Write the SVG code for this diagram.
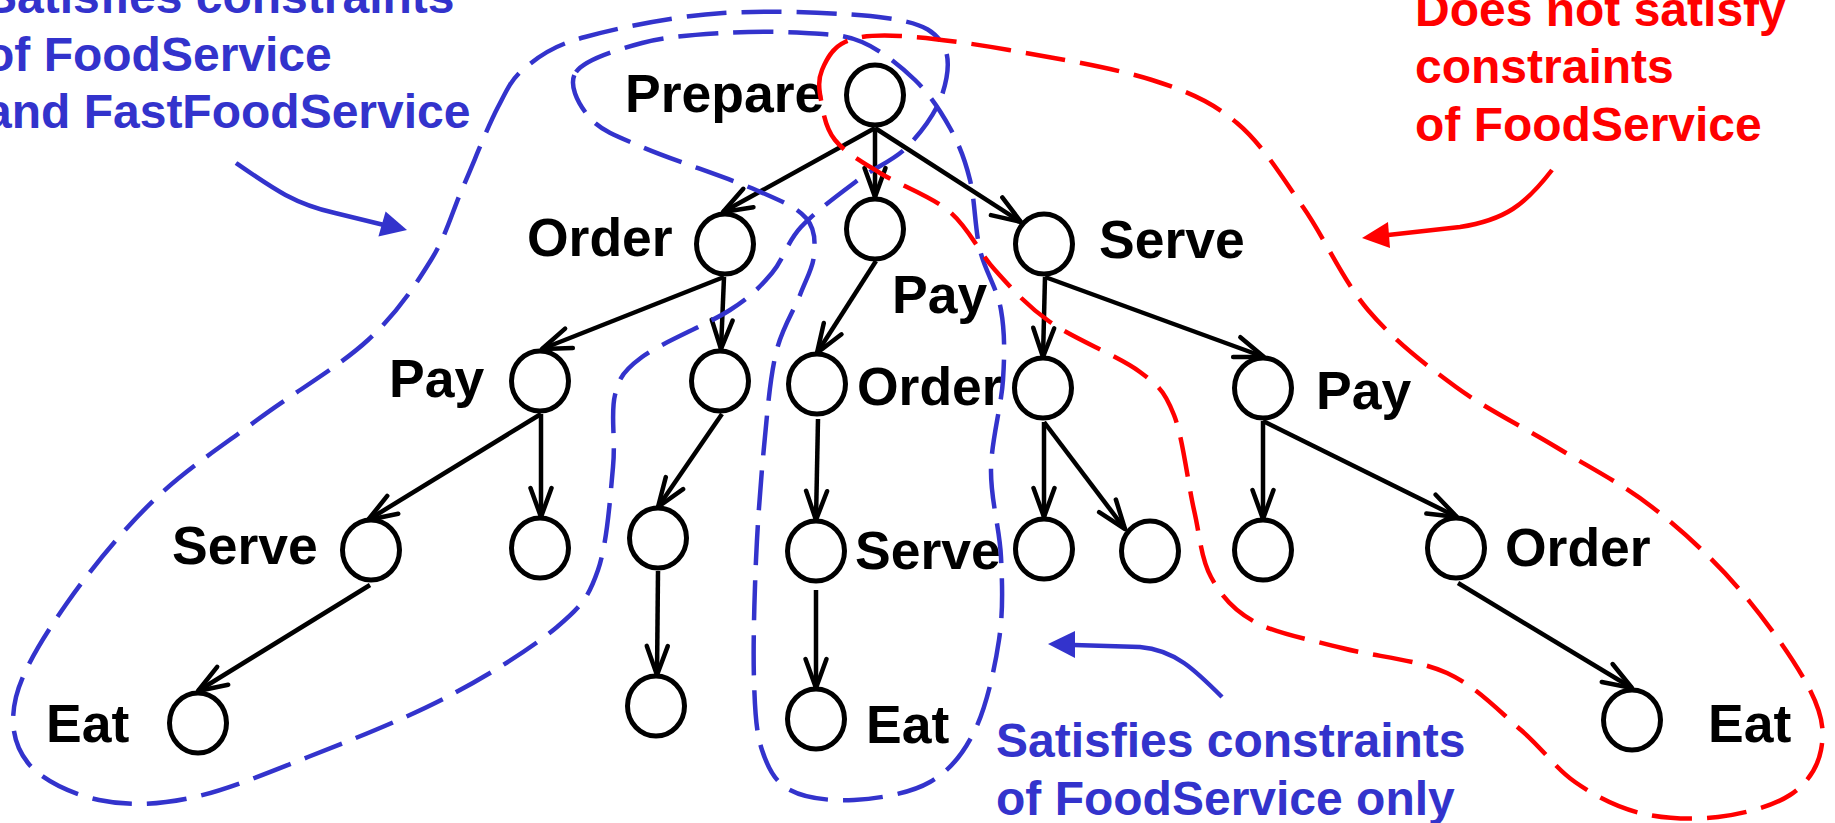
<svg xmlns="http://www.w3.org/2000/svg" width="1835" height="823" viewBox="0 0 1835 823">
  <style>
    .node { fill: #fff; stroke: #000; stroke-width: 5; }
    .lbl { font-family: "Liberation Sans", Arial, sans-serif; font-weight: bold; font-size: 53.5px; fill: #000; }
    .note { font-family: "Liberation Sans", Arial, sans-serif; font-weight: bold; font-size: 48px; }
    .blue { fill: #3333CC; }
    .red { fill: #FF0000; }
    .edge { fill: none; stroke: #000; stroke-width: 4.5; marker-end: url(#vee); }
    .region { fill: none; stroke-width: 4.5; stroke-dasharray: 40 15; }
    .callout { fill: none; stroke-width: 4.5; }
  </style>
  <defs>
    <marker id="vee" markerUnits="userSpaceOnUse" markerWidth="40" markerHeight="30" refX="0" refY="0" orient="auto" style="overflow:visible">
      <path d="M-29,-10.5 L0,0 L-29,10.5" fill="none" stroke="#000" stroke-width="4.5" stroke-linecap="round" stroke-linejoin="round"/>
    </marker>
  </defs>
  <rect width="1835" height="823" fill="#fff"/>

  <!-- connectors -->
  <g id="connectors">
    <line class="edge" x1="875" y1="128" x2="723" y2="212"/>
    <line class="edge" x1="875" y1="128" x2="875" y2="197"/>
    <line class="edge" x1="875" y1="128" x2="1021" y2="222"/>
    <line class="edge" x1="724" y1="277" x2="542" y2="349"/>
    <line class="edge" x1="724" y1="277" x2="721" y2="349"/>
    <line class="edge" x1="876" y1="261" x2="817" y2="353"/>
    <line class="edge" x1="1045" y1="277" x2="1043" y2="357"/>
    <line class="edge" x1="1045" y1="277" x2="1264" y2="357"/>
    <line class="edge" x1="541" y1="414" x2="368" y2="520"/>
    <line class="edge" x1="541" y1="414" x2="541" y2="517"/>
    <line class="edge" x1="722" y1="414" x2="658" y2="507"/>
    <line class="edge" x1="818" y1="419" x2="816" y2="520"/>
    <line class="edge" x1="1044" y1="422" x2="1044" y2="517"/>
    <line class="edge" x1="1044" y1="422" x2="1125" y2="529"/>
    <line class="edge" x1="1263" y1="421" x2="1263" y2="519"/>
    <line class="edge" x1="1263" y1="421" x2="1457" y2="517"/>
    <line class="edge" x1="370" y1="585" x2="198" y2="691"/>
    <line class="edge" x1="658" y1="571" x2="657" y2="675"/>
    <line class="edge" x1="816" y1="590" x2="816" y2="688"/>
    <line class="edge" x1="1458" y1="583" x2="1632" y2="688"/>
  </g>

  <!-- tree nodes -->
  <g id="n-prepare"><ellipse class="node" cx="875" cy="95" rx="28.5" ry="30"/><text class="lbl" x="625" y="112">Prepare</text></g>
  <g id="n-order-1"><ellipse class="node" cx="725" cy="244" rx="28.5" ry="30"/><text class="lbl" x="527" y="256">Order</text></g>
  <g id="n-pay-1"><ellipse class="node" cx="875" cy="229" rx="28.5" ry="30"/><text class="lbl" x="892" y="313">Pay</text></g>
  <g id="n-serve-1"><ellipse class="node" cx="1044" cy="244" rx="28.5" ry="30"/><text class="lbl" x="1099" y="258">Serve</text></g>
  <g id="n-pay-2a"><ellipse class="node" cx="540" cy="381" rx="28.5" ry="30"/><text class="lbl" x="389" y="397">Pay</text></g>
  <g id="n-x-2b"><ellipse class="node" cx="720" cy="381" rx="28.5" ry="30"/></g>
  <g id="n-order-2c"><ellipse class="node" cx="817" cy="384" rx="28.5" ry="30"/><text class="lbl" x="857" y="405">Order</text></g>
  <g id="n-x-2d"><ellipse class="node" cx="1043" cy="388" rx="28.5" ry="30"/></g>
  <g id="n-pay-2e"><ellipse class="node" cx="1263" cy="388" rx="28.5" ry="30"/><text class="lbl" x="1316" y="409">Pay</text></g>
  <g id="n-serve-3a"><ellipse class="node" cx="371" cy="550" rx="28.5" ry="30"/><text class="lbl" x="172" y="564">Serve</text></g>
  <g id="n-x-3b"><ellipse class="node" cx="540" cy="548" rx="28.5" ry="30"/></g>
  <g id="n-x-3c"><ellipse class="node" cx="658" cy="538" rx="28.5" ry="30"/></g>
  <g id="n-serve-3d"><ellipse class="node" cx="816" cy="551" rx="28.5" ry="30"/><text class="lbl" x="855" y="569">Serve</text></g>
  <g id="n-x-3e"><ellipse class="node" cx="1044" cy="549" rx="28.5" ry="30"/></g>
  <g id="n-x-3f"><ellipse class="node" cx="1150" cy="551" rx="28.5" ry="30"/></g>
  <g id="n-x-3g"><ellipse class="node" cx="1263" cy="550" rx="28.5" ry="30"/></g>
  <g id="n-order-3h"><ellipse class="node" cx="1456" cy="548" rx="28.5" ry="30"/><text class="lbl" x="1505" y="566">Order</text></g>
  <g id="n-eat-4a"><ellipse class="node" cx="198" cy="723" rx="28.5" ry="30"/><text class="lbl" x="46" y="742">Eat</text></g>
  <g id="n-x-4b"><ellipse class="node" cx="656" cy="706" rx="28.5" ry="30"/></g>
  <g id="n-eat-4c"><ellipse class="node" cx="816" cy="719" rx="28.5" ry="30"/><text class="lbl" x="866" y="743">Eat</text></g>
  <g id="n-eat-4d"><ellipse class="node" cx="1632" cy="720" rx="28.5" ry="30"/><text class="lbl" x="1708" y="742">Eat</text></g>

  <!-- dashed regions -->
  <g id="regions">
    <path id="region-fast" class="region" stroke="#3333CC" d="M498,107 C508.5,87 511.5,78.7 526,67 C540.5,55.3 552.2,46 585,37 C617.8,28 672.8,16.2 723,13 C773.2,9.8 849.5,13 886,18 C922.5,23 932.7,30.2 942,43 C951.3,55.8 947.8,77.7 942,95 C936.2,112.3 921,132.8 907,147 C893,161.2 875.7,166.7 858,180 C840.3,193.3 815.3,211.5 801,227 C786.7,242.5 783.8,259.2 772,273 C760.2,286.8 751.7,296 730,310 C708.3,324 661.2,342.8 642,357 C622.8,371.2 619.8,376.7 615,395 C610.2,413.3 615.8,437.8 613,467 C610.2,496.2 607.3,543.3 598,570 C588.7,596.7 582.2,605.8 557,627 C531.8,648.2 488.5,675.3 447,697 C405.5,718.7 350.8,740.2 308,757 C265.2,773.8 224.8,790.8 190,798 C155.2,805.2 126,805.8 99,800 C72,794.2 41.8,780.2 28,763 C14.2,745.8 9.5,723.7 16,697 C22.5,670.3 44,635.8 67,603 C90,570.2 122.3,530.5 154,500 C185.7,469.5 221.3,446.7 257,420 C292.7,393.3 339,366.7 368,340 C397,313.3 415.2,285.5 431,260 C446.8,234.5 451.8,212.5 463,187 C474.2,161.5 487.5,127 498,107 Z"/>
    <path id="region-food" class="region" stroke="#3333CC" d="M576,72 C584.7,59.5 617.5,49.5 642,43 C666.5,36.5 695.8,34.7 723,33 C750.2,31.3 781.8,31.5 805,33 C828.2,34.5 843.7,34.2 862,42 C880.3,49.8 900.3,65.7 915,80 C929.7,94.3 940.8,111.3 950,128 C959.2,144.7 965,159.7 970,180 C975,200.3 974.8,228.3 980,250 C985.2,271.7 997.2,288.3 1001,310 C1004.8,331.7 1004.7,353.3 1003,380 C1001.3,406.7 991.3,440.5 991,470 C990.7,499.5 999.7,528.7 1001,557 C1002.3,585.3 1003.3,611.2 999,640 C994.7,668.8 986.5,706.3 975,730 C963.5,753.7 950.2,770.3 930,782 C909.8,793.7 877.3,798.7 854,800 C830.7,801.3 805.3,798.3 790,790 C774.7,781.7 768,768.3 762,750 C756,731.7 755,711.7 754,680 C753,648.3 754.3,598.8 756,560 C757.7,521.2 760.7,481.5 764,447 C767.3,412.5 770,378.3 776,353 C782,327.7 793.7,311.3 800,295 C806.3,278.7 813,267.8 814,255 C815,242.2 815.7,228.8 806,218 C796.3,207.2 783.3,201.8 756,190 C728.7,178.2 669.7,159 642,147 C614.3,135 601,130.5 590,118 C579,105.5 567.3,84.5 576,72 Z"/>
    <path id="region-none" class="region" stroke="#FF0000" d="M822,70 C826,60.3 832,47.7 845,42 C858,36.3 872.7,34.7 900,36 C927.3,37.3 967,42.7 1009,50 C1051,57.3 1114,67.8 1152,80 C1190,92.2 1211.8,101.8 1237,123 C1262.2,144.2 1281.2,175.8 1303,207 C1324.8,238.2 1342.5,280 1368,310 C1393.5,340 1424.7,364.2 1456,387 C1487.3,409.8 1523.3,427 1556,447 C1588.7,467 1621.3,483.2 1652,507 C1682.7,530.8 1713.7,559.5 1740,590 C1766.3,620.5 1796.5,663.3 1810,690 C1823.5,716.7 1824.3,732.5 1821,750 C1817.7,767.5 1807.2,783.8 1790,795 C1772.8,806.2 1743,814 1718,817 C1693,820 1663.8,818.8 1640,813 C1616.2,807.2 1594.8,795.8 1575,782 C1555.2,768.2 1542.3,748.2 1521,730 C1499.7,711.8 1476.8,686.7 1447,673 C1417.2,659.3 1374,656.5 1342,648 C1310,639.5 1276.8,633.8 1255,622 C1233.2,610.2 1221.2,595.7 1211,577 C1200.8,558.3 1200.2,537 1194,510 C1187.8,483 1183,438 1174,415 C1165,392 1160.7,387.5 1140,372 C1119.3,356.5 1074.2,339 1050,322 C1025.8,305 1011.7,288.3 995,270 C978.3,251.7 969.2,228.2 950,212 C930.8,195.8 899.2,185 880,173 C860.8,161 844.8,152.2 835,140 C825.2,127.8 823.2,111.7 821,100 C818.8,88.3 818,79.7 822,70 Z"/>
  </g>

  <!-- annotations -->
  <g id="note-fast">
    <text class="note blue" x="-15" y="13">Satisfies constraints</text>
    <text class="note blue" x="-15" y="70.5">of FoodService</text>
    <text class="note blue" x="-15" y="128">and FastFoodService</text>
    <path class="callout" stroke="#3333CC" d="M236,163 C275,190 295,204 335,213 L384,225"/>
    <polygon fill="#3333CC" points="407,230 385.6,211.5 378.4,236.5"/>
  </g>
  <g id="note-food">
    <text class="note blue" x="996" y="757">Satisfies constraints</text>
    <text class="note blue" x="996" y="814.5">of FoodService only</text>
    <path class="callout" stroke="#3333CC" d="M1222,697 C1195,670 1175,650 1140,647 L1074,645"/>
    <polygon fill="#3333CC" points="1048,644 1075,631 1075,658"/>
  </g>
  <g id="note-none">
    <text class="note red" x="1415" y="26">Does not satisfy</text>
    <text class="note red" x="1415" y="83">constraints</text>
    <text class="note red" x="1415" y="141">of FoodService</text>
    <path class="callout" stroke="#FF0000" d="M1552,170 C1525,205 1505,220 1460,227 L1388,235"/>
    <polygon fill="#FF0000" points="1362,238 1388,222 1390,248"/>
  </g>
</svg>
